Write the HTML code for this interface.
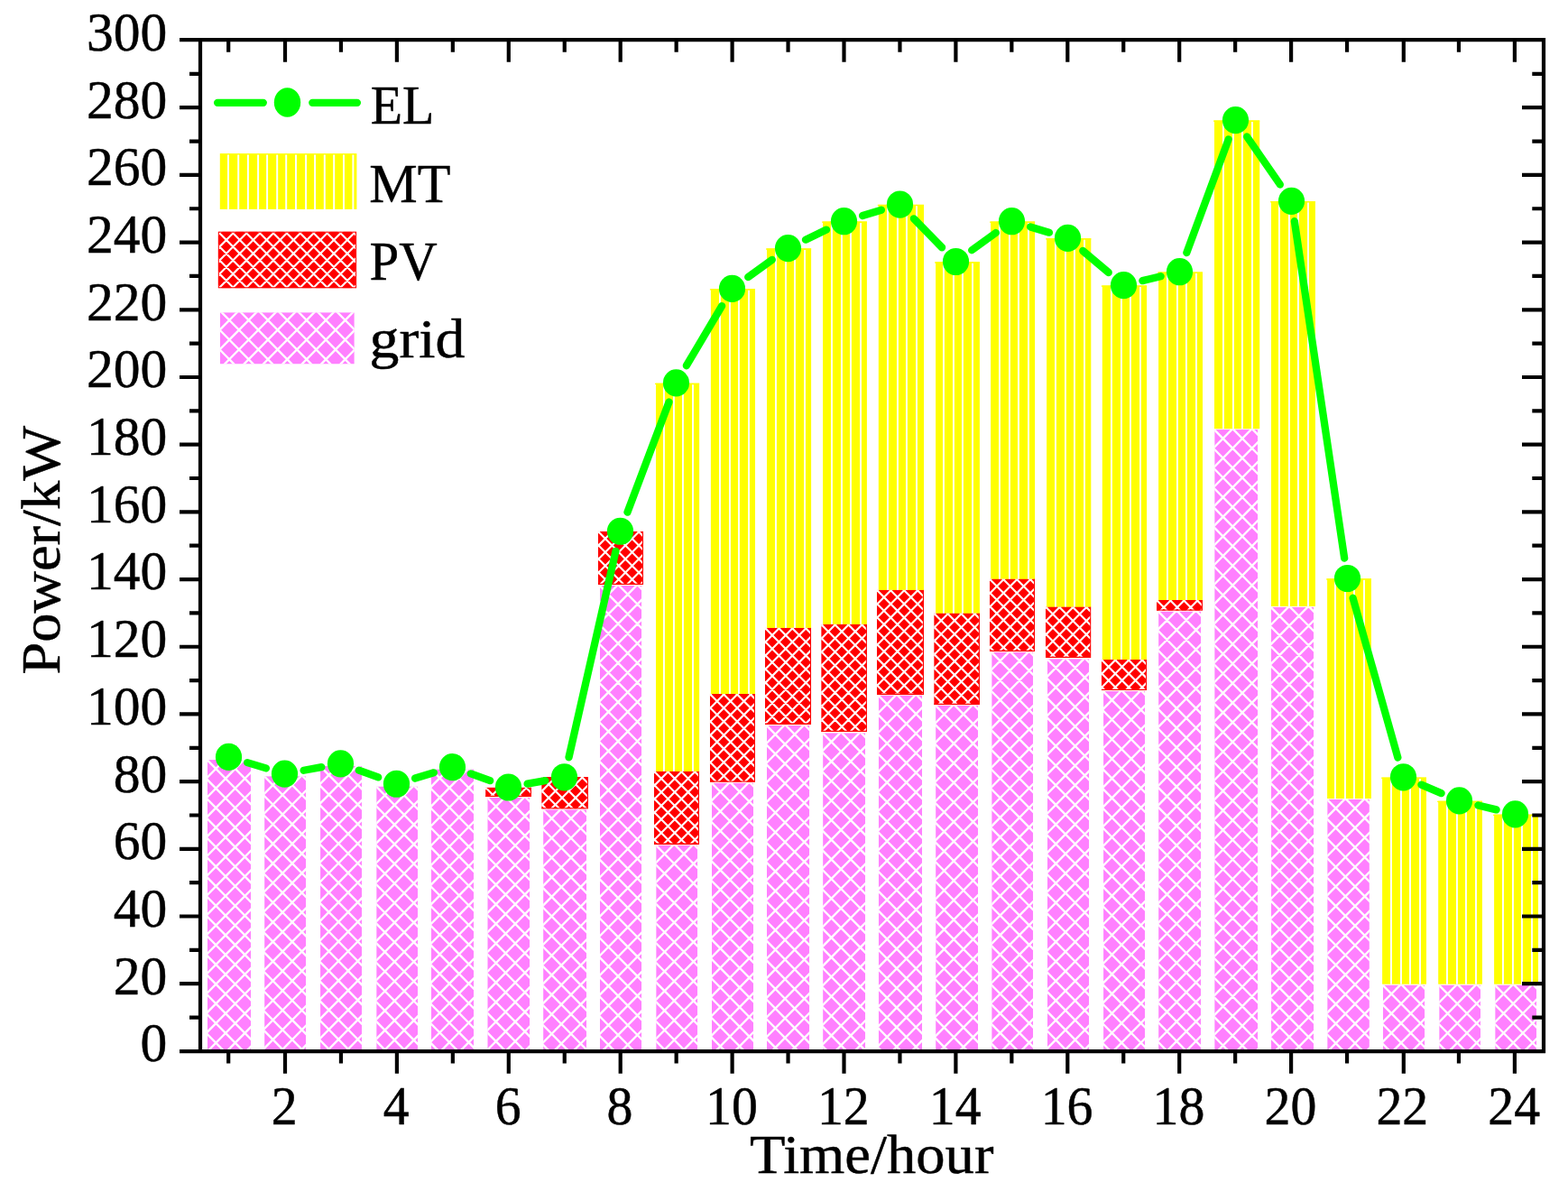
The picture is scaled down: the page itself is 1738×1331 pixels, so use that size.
<!DOCTYPE html>
<html lang="en"><head><meta charset="utf-8"><title>Power dispatch chart</title>
<style>html,body{margin:0;padding:0;background:#fff}body{width:1738px;height:1331px;overflow:hidden}svg{display:block}text{font-family:"Liberation Serif",serif;fill:#000;stroke:#000;stroke-width:0.45px;stroke-linejoin:round}</style></head><body>
<svg width="1738" height="1331" viewBox="0 0 1738 1331">
<rect width="1738" height="1331" fill="#fff"/>
<g id="bars">
<svg x="229.9" y="842.1" width="48.2" height="321.9"><rect width="100%" height="100%" fill="#ff80ff"/><path d="M-3 322.78L-0.91 324.9M-3 301.08L20.49 324.9M-3 279.38L41.89 324.9M-3 257.68L51.2 312.64M-3 235.98L51.2 290.94M-3 214.28L51.2 269.24M-3 192.58L51.2 247.54M-3 170.88L51.2 225.84M-3 149.18L51.2 204.14M-3 127.48L51.2 182.44M-3 105.78L51.2 160.74M-3 84.08L51.2 139.04M-3 62.38L51.2 117.34M-3 40.68L51.2 95.64M-3 18.98L51.2 73.94M-3 -2.72L51.2 52.24M18.13 -3L51.2 30.54M39.53 -3L51.2 8.84M0.67 -3L-3 0.72M22.07 -3L-3 22.42M43.47 -3L-3 44.12M51.2 10.86L-3 65.82M51.2 32.56L-3 87.52M51.2 54.26L-3 109.22M51.2 75.96L-3 130.92M51.2 97.66L-3 152.62M51.2 119.36L-3 174.32M51.2 141.06L-3 196.02M51.2 162.76L-3 217.72M51.2 184.46L-3 239.42M51.2 206.16L-3 261.12M51.2 227.86L-3 282.82M51.2 249.56L-3 304.52M51.2 271.26L-1.69 324.9M51.2 292.96L19.71 324.9M51.2 314.66L41.11 324.9" stroke="#fff" stroke-width="2.35" fill="none"/></svg>
<svg x="293.1" y="860.2" width="46" height="303.8"><rect width="100%" height="100%" fill="#ff80ff"/><path d="M-3 301.08L2.64 306.8M-3 279.38L24.04 306.8M-3 257.68L45.44 306.8M-3 235.98L49 288.71M-3 214.28L49 267.01M-3 192.58L49 245.31M-3 170.88L49 223.61M-3 149.18L49 201.91M-3 127.48L49 180.21M-3 105.78L49 158.51M-3 84.08L49 136.81M-3 62.38L49 115.11M-3 40.68L49 93.41M-3 18.98L49 71.71M-3 -2.72L49 50.01M18.13 -3L49 28.31M39.53 -3L49 6.61M0.67 -3L-3 0.72M22.07 -3L-3 22.42M43.47 -3L-3 44.12M49 13.09L-3 65.82M49 34.79L-3 87.52M49 56.49L-3 109.22M49 78.19L-3 130.92M49 99.89L-3 152.62M49 121.59L-3 174.32M49 143.29L-3 196.02M49 164.99L-3 217.72M49 186.69L-3 239.42M49 208.39L-3 261.12M49 230.09L-3 282.82M49 251.79L-3 304.52M49 273.49L16.16 306.8M49 295.19L37.56 306.8" stroke="#fff" stroke-width="2.35" fill="none"/></svg>
<svg x="355.1" y="849.1" width="45.9" height="314.9"><rect width="100%" height="100%" fill="#ff80ff"/><path d="M-3 301.08L13.59 317.9M-3 279.38L34.99 317.9M-3 257.68L48.9 310.3M-3 235.98L48.9 288.6M-3 214.28L48.9 266.9M-3 192.58L48.9 245.2M-3 170.88L48.9 223.5M-3 149.18L48.9 201.8M-3 127.48L48.9 180.1M-3 105.78L48.9 158.4M-3 84.08L48.9 136.7M-3 62.38L48.9 115M-3 40.68L48.9 93.3M-3 18.98L48.9 71.6M-3 -2.72L48.9 49.9M18.13 -3L48.9 28.2M39.53 -3L48.9 6.5M0.67 -3L-3 0.72M22.07 -3L-3 22.42M43.47 -3L-3 44.12M48.9 13.2L-3 65.82M48.9 34.9L-3 87.52M48.9 56.6L-3 109.22M48.9 78.3L-3 130.92M48.9 100L-3 152.62M48.9 121.7L-3 174.32M48.9 143.4L-3 196.02M48.9 165.1L-3 217.72M48.9 186.8L-3 239.42M48.9 208.5L-3 261.12M48.9 230.2L-3 282.82M48.9 251.9L-3 304.52M48.9 273.6L5.21 317.9M48.9 295.3L26.61 317.9M48.9 317L48.01 317.9" stroke="#fff" stroke-width="2.35" fill="none"/></svg>
<svg x="417.2" y="871.5" width="45.9" height="292.5"><rect width="100%" height="100%" fill="#ff80ff"/><path d="M-3 279.38L12.9 295.5M-3 257.68L34.3 295.5M-3 235.98L48.9 288.6M-3 214.28L48.9 266.9M-3 192.58L48.9 245.2M-3 170.88L48.9 223.5M-3 149.18L48.9 201.8M-3 127.48L48.9 180.1M-3 105.78L48.9 158.4M-3 84.08L48.9 136.7M-3 62.38L48.9 115M-3 40.68L48.9 93.3M-3 18.98L48.9 71.6M-3 -2.72L48.9 49.9M18.13 -3L48.9 28.2M39.53 -3L48.9 6.5M0.67 -3L-3 0.72M22.07 -3L-3 22.42M43.47 -3L-3 44.12M48.9 13.2L-3 65.82M48.9 34.9L-3 87.52M48.9 56.6L-3 109.22M48.9 78.3L-3 130.92M48.9 100L-3 152.62M48.9 121.7L-3 174.32M48.9 143.4L-3 196.02M48.9 165.1L-3 217.72M48.9 186.8L-3 239.42M48.9 208.5L-3 261.12M48.9 230.2L-3 282.82M48.9 251.9L5.9 295.5M48.9 273.6L27.3 295.5M48.9 295.3L48.7 295.5" stroke="#fff" stroke-width="2.35" fill="none"/></svg>
<svg x="478" y="852.4" width="47.1" height="311.6"><rect width="100%" height="100%" fill="#ff80ff"/><path d="M-3 301.08L10.34 314.6M-3 279.38L31.74 314.6M-3 257.68L50.1 311.52M-3 235.98L50.1 289.82M-3 214.28L50.1 268.12M-3 192.58L50.1 246.42M-3 170.88L50.1 224.72M-3 149.18L50.1 203.02M-3 127.48L50.1 181.32M-3 105.78L50.1 159.62M-3 84.08L50.1 137.92M-3 62.38L50.1 116.22M-3 40.68L50.1 94.52M-3 18.98L50.1 72.82M-3 -2.72L50.1 51.12M18.13 -3L50.1 29.42M39.53 -3L50.1 7.72M0.67 -3L-3 0.72M22.07 -3L-3 22.42M43.47 -3L-3 44.12M50.1 11.98L-3 65.82M50.1 33.68L-3 87.52M50.1 55.38L-3 109.22M50.1 77.08L-3 130.92M50.1 98.78L-3 152.62M50.1 120.48L-3 174.32M50.1 142.18L-3 196.02M50.1 163.88L-3 217.72M50.1 185.58L-3 239.42M50.1 207.28L-3 261.12M50.1 228.98L-3 282.82M50.1 250.68L-3 304.52M50.1 272.38L8.46 314.6M50.1 294.08L29.86 314.6" stroke="#fff" stroke-width="2.35" fill="none"/></svg>
<svg x="540.3" y="883.8" width="46.9" height="280.2"><rect width="100%" height="100%" fill="#ff80ff"/><path d="M-3 279.38L0.77 283.2M-3 257.68L22.17 283.2M-3 235.98L43.57 283.2M-3 214.28L49.9 267.92M-3 192.58L49.9 246.22M-3 170.88L49.9 224.52M-3 149.18L49.9 202.82M-3 127.48L49.9 181.12M-3 105.78L49.9 159.42M-3 84.08L49.9 137.72M-3 62.38L49.9 116.02M-3 40.68L49.9 94.32M-3 18.98L49.9 72.62M-3 -2.72L49.9 50.92M18.13 -3L49.9 29.22M39.53 -3L49.9 7.52M0.67 -3L-3 0.72M22.07 -3L-3 22.42M43.47 -3L-3 44.12M49.9 12.18L-3 65.82M49.9 33.88L-3 87.52M49.9 55.58L-3 109.22M49.9 77.28L-3 130.92M49.9 98.98L-3 152.62M49.9 120.68L-3 174.32M49.9 142.38L-3 196.02M49.9 164.08L-3 217.72M49.9 185.78L-3 239.42M49.9 207.48L-3 261.12M49.9 229.18L-3 282.82M49.9 250.88L18.03 283.2M49.9 272.58L39.43 283.2" stroke="#fff" stroke-width="2.35" fill="none"/></svg>
<svg x="602.1" y="897.2" width="47.9" height="266.8"><rect width="100%" height="100%" fill="#ff80ff"/><path d="M-3 257.68L8.96 269.8M-3 235.98L30.36 269.8M-3 214.28L50.9 268.93M-3 192.58L50.9 247.23M-3 170.88L50.9 225.53M-3 149.18L50.9 203.83M-3 127.48L50.9 182.13M-3 105.78L50.9 160.43M-3 84.08L50.9 138.73M-3 62.38L50.9 117.03M-3 40.68L50.9 95.33M-3 18.98L50.9 73.63M-3 -2.72L50.9 51.93M18.13 -3L50.9 30.23M39.53 -3L50.9 8.53M0.67 -3L-3 0.72M22.07 -3L-3 22.42M43.47 -3L-3 44.12M50.9 11.17L-3 65.82M50.9 32.87L-3 87.52M50.9 54.57L-3 109.22M50.9 76.27L-3 130.92M50.9 97.97L-3 152.62M50.9 119.67L-3 174.32M50.9 141.37L-3 196.02M50.9 163.07L-3 217.72M50.9 184.77L-3 239.42M50.9 206.47L-3 261.12M50.9 228.17L9.84 269.8M50.9 249.87L31.24 269.8" stroke="#fff" stroke-width="2.35" fill="none"/></svg>
<svg x="665" y="648.9" width="46.2" height="515.1"><rect width="100%" height="100%" fill="#ff80ff"/><path d="M-3 518.08L-2.98 518.1M-3 496.38L18.42 518.1M-3 474.68L39.82 518.1M-3 452.98L49.2 505.91M-3 431.28L49.2 484.21M-3 409.58L49.2 462.51M-3 387.88L49.2 440.81M-3 366.18L49.2 419.11M-3 344.48L49.2 397.41M-3 322.78L49.2 375.71M-3 301.08L49.2 354.01M-3 279.38L49.2 332.31M-3 257.68L49.2 310.61M-3 235.98L49.2 288.91M-3 214.28L49.2 267.21M-3 192.58L49.2 245.51M-3 170.88L49.2 223.81M-3 149.18L49.2 202.11M-3 127.48L49.2 180.41M-3 105.78L49.2 158.71M-3 84.08L49.2 137.01M-3 62.38L49.2 115.31M-3 40.68L49.2 93.61M-3 18.98L49.2 71.91M-3 -2.72L49.2 50.21M18.13 -3L49.2 28.51M39.53 -3L49.2 6.81M0.67 -3L-3 0.72M22.07 -3L-3 22.42M43.47 -3L-3 44.12M49.2 12.89L-3 65.82M49.2 34.59L-3 87.52M49.2 56.29L-3 109.22M49.2 77.99L-3 130.92M49.2 99.69L-3 152.62M49.2 121.39L-3 174.32M49.2 143.09L-3 196.02M49.2 164.79L-3 217.72M49.2 186.49L-3 239.42M49.2 208.19L-3 261.12M49.2 229.89L-3 282.82M49.2 251.59L-3 304.52M49.2 273.29L-3 326.22M49.2 294.99L-3 347.92M49.2 316.69L-3 369.62M49.2 338.39L-3 391.32M49.2 360.09L-3 413.02M49.2 381.79L-3 434.72M49.2 403.49L-3 456.42M49.2 425.19L-3 478.12M49.2 446.89L-3 499.82M49.2 468.59L0.38 518.1M49.2 490.29L21.78 518.1M49.2 511.99L43.18 518.1" stroke="#fff" stroke-width="2.35" fill="none"/></svg>
<svg x="727.2" y="936.5" width="46" height="227.5"><rect width="100%" height="100%" fill="#ff80ff"/><path d="M-3 214.28L13 230.5M-3 192.58L34.4 230.5M-3 170.88L49 223.61M-3 149.18L49 201.91M-3 127.48L49 180.21M-3 105.78L49 158.51M-3 84.08L49 136.81M-3 62.38L49 115.11M-3 40.68L49 93.41M-3 18.98L49 71.71M-3 -2.72L49 50.01M18.13 -3L49 28.31M39.53 -3L49 6.61M0.67 -3L-3 0.72M22.07 -3L-3 22.42M43.47 -3L-3 44.12M49 13.09L-3 65.82M49 34.79L-3 87.52M49 56.49L-3 109.22M49 78.19L-3 130.92M49 99.89L-3 152.62M49 121.59L-3 174.32M49 143.29L-3 196.02M49 164.99L-3 217.72M49 186.69L5.8 230.5M49 208.39L27.2 230.5M49 230.09L48.6 230.5" stroke="#fff" stroke-width="2.35" fill="none"/></svg>
<svg x="789" y="867.6" width="46" height="296.4"><rect width="100%" height="100%" fill="#ff80ff"/><path d="M-3 279.38L16.75 299.4M-3 257.68L38.15 299.4M-3 235.98L49 288.71M-3 214.28L49 267.01M-3 192.58L49 245.31M-3 170.88L49 223.61M-3 149.18L49 201.91M-3 127.48L49 180.21M-3 105.78L49 158.51M-3 84.08L49 136.81M-3 62.38L49 115.11M-3 40.68L49 93.41M-3 18.98L49 71.71M-3 -2.72L49 50.01M18.13 -3L49 28.31M39.53 -3L49 6.61M0.67 -3L-3 0.72M22.07 -3L-3 22.42M43.47 -3L-3 44.12M49 13.09L-3 65.82M49 34.79L-3 87.52M49 56.49L-3 109.22M49 78.19L-3 130.92M49 99.89L-3 152.62M49 121.59L-3 174.32M49 143.29L-3 196.02M49 164.99L-3 217.72M49 186.69L-3 239.42M49 208.39L-3 261.12M49 230.09L-3 282.82M49 251.79L2.05 299.4M49 273.49L23.45 299.4M49 295.19L44.85 299.4" stroke="#fff" stroke-width="2.35" fill="none"/></svg>
<svg x="850" y="804" width="47.2" height="360"><rect width="100%" height="100%" fill="#ff80ff"/><path d="M-3 344.48L15.27 363M-3 322.78L36.67 363M-3 301.08L50.2 355.02M-3 279.38L50.2 333.32M-3 257.68L50.2 311.62M-3 235.98L50.2 289.92M-3 214.28L50.2 268.22M-3 192.58L50.2 246.52M-3 170.88L50.2 224.82M-3 149.18L50.2 203.12M-3 127.48L50.2 181.42M-3 105.78L50.2 159.72M-3 84.08L50.2 138.02M-3 62.38L50.2 116.32M-3 40.68L50.2 94.62M-3 18.98L50.2 72.92M-3 -2.72L50.2 51.22M18.13 -3L50.2 29.52M39.53 -3L50.2 7.82M0.67 -3L-3 0.72M22.07 -3L-3 22.42M43.47 -3L-3 44.12M50.2 11.88L-3 65.82M50.2 33.58L-3 87.52M50.2 55.28L-3 109.22M50.2 76.98L-3 130.92M50.2 98.68L-3 152.62M50.2 120.38L-3 174.32M50.2 142.08L-3 196.02M50.2 163.78L-3 217.72M50.2 185.48L-3 239.42M50.2 207.18L-3 261.12M50.2 228.88L-3 282.82M50.2 250.58L-3 304.52M50.2 272.28L-3 326.22M50.2 293.98L-3 347.92M50.2 315.68L3.53 363M50.2 337.38L24.93 363M50.2 359.08L46.33 363" stroke="#fff" stroke-width="2.35" fill="none"/></svg>
<svg x="912.1" y="812.3" width="46.9" height="351.7"><rect width="100%" height="100%" fill="#ff80ff"/><path d="M-3 344.48L7.08 354.7M-3 322.78L28.48 354.7M-3 301.08L49.88 354.7M-3 279.38L49.9 333.02M-3 257.68L49.9 311.32M-3 235.98L49.9 289.62M-3 214.28L49.9 267.92M-3 192.58L49.9 246.22M-3 170.88L49.9 224.52M-3 149.18L49.9 202.82M-3 127.48L49.9 181.12M-3 105.78L49.9 159.42M-3 84.08L49.9 137.72M-3 62.38L49.9 116.02M-3 40.68L49.9 94.32M-3 18.98L49.9 72.62M-3 -2.72L49.9 50.92M18.13 -3L49.9 29.22M39.53 -3L49.9 7.52M0.67 -3L-3 0.72M22.07 -3L-3 22.42M43.47 -3L-3 44.12M49.9 12.18L-3 65.82M49.9 33.88L-3 87.52M49.9 55.58L-3 109.22M49.9 77.28L-3 130.92M49.9 98.98L-3 152.62M49.9 120.68L-3 174.32M49.9 142.38L-3 196.02M49.9 164.08L-3 217.72M49.9 185.78L-3 239.42M49.9 207.48L-3 261.12M49.9 229.18L-3 282.82M49.9 250.88L-3 304.52M49.9 272.58L-3 326.22M49.9 294.28L-3 347.92M49.9 315.98L11.72 354.7M49.9 337.68L33.12 354.7" stroke="#fff" stroke-width="2.35" fill="none"/></svg>
<svg x="973.8" y="770.5" width="48.3" height="393.5"><rect width="100%" height="100%" fill="#ff80ff"/><path d="M-3 387.88L5.5 396.5M-3 366.18L26.9 396.5M-3 344.48L48.3 396.5M-3 322.78L51.3 377.84M-3 301.08L51.3 356.14M-3 279.38L51.3 334.44M-3 257.68L51.3 312.74M-3 235.98L51.3 291.04M-3 214.28L51.3 269.34M-3 192.58L51.3 247.64M-3 170.88L51.3 225.94M-3 149.18L51.3 204.24M-3 127.48L51.3 182.54M-3 105.78L51.3 160.84M-3 84.08L51.3 139.14M-3 62.38L51.3 117.44M-3 40.68L51.3 95.74M-3 18.98L51.3 74.04M-3 -2.72L51.3 52.34M18.13 -3L51.3 30.64M39.53 -3L51.3 8.94M0.67 -3L-3 0.72M22.07 -3L-3 22.42M43.47 -3L-3 44.12M51.3 10.76L-3 65.82M51.3 32.46L-3 87.52M51.3 54.16L-3 109.22M51.3 75.86L-3 130.92M51.3 97.56L-3 152.62M51.3 119.26L-3 174.32M51.3 140.96L-3 196.02M51.3 162.66L-3 217.72M51.3 184.36L-3 239.42M51.3 206.06L-3 261.12M51.3 227.76L-3 282.82M51.3 249.46L-3 304.52M51.3 271.16L-3 326.22M51.3 292.86L-3 347.92M51.3 314.56L-3 369.62M51.3 336.26L-3 391.32M51.3 357.96L13.3 396.5M51.3 379.66L34.7 396.5" stroke="#fff" stroke-width="2.35" fill="none"/></svg>
<svg x="1037.1" y="781.6" width="46.9" height="382.4"><rect width="100%" height="100%" fill="#ff80ff"/><path d="M-3 366.18L15.96 385.4M-3 344.48L37.36 385.4M-3 322.78L49.9 376.42M-3 301.08L49.9 354.72M-3 279.38L49.9 333.02M-3 257.68L49.9 311.32M-3 235.98L49.9 289.62M-3 214.28L49.9 267.92M-3 192.58L49.9 246.22M-3 170.88L49.9 224.52M-3 149.18L49.9 202.82M-3 127.48L49.9 181.12M-3 105.78L49.9 159.42M-3 84.08L49.9 137.72M-3 62.38L49.9 116.02M-3 40.68L49.9 94.32M-3 18.98L49.9 72.62M-3 -2.72L49.9 50.92M18.13 -3L49.9 29.22M39.53 -3L49.9 7.52M0.67 -3L-3 0.72M22.07 -3L-3 22.42M43.47 -3L-3 44.12M49.9 12.18L-3 65.82M49.9 33.88L-3 87.52M49.9 55.58L-3 109.22M49.9 77.28L-3 130.92M49.9 98.98L-3 152.62M49.9 120.68L-3 174.32M49.9 142.38L-3 196.02M49.9 164.08L-3 217.72M49.9 185.78L-3 239.42M49.9 207.48L-3 261.12M49.9 229.18L-3 282.82M49.9 250.88L-3 304.52M49.9 272.58L-3 326.22M49.9 294.28L-3 347.92M49.9 315.98L-3 369.62M49.9 337.68L2.84 385.4M49.9 359.38L24.24 385.4M49.9 381.08L45.64 385.4" stroke="#fff" stroke-width="2.35" fill="none"/></svg>
<svg x="1099.2" y="722.6" width="45.9" height="441.4"><rect width="100%" height="100%" fill="#ff80ff"/><path d="M-3 431.28L9.94 444.4M-3 409.58L31.34 444.4M-3 387.88L48.9 440.5M-3 366.18L48.9 418.8M-3 344.48L48.9 397.1M-3 322.78L48.9 375.4M-3 301.08L48.9 353.7M-3 279.38L48.9 332M-3 257.68L48.9 310.3M-3 235.98L48.9 288.6M-3 214.28L48.9 266.9M-3 192.58L48.9 245.2M-3 170.88L48.9 223.5M-3 149.18L48.9 201.8M-3 127.48L48.9 180.1M-3 105.78L48.9 158.4M-3 84.08L48.9 136.7M-3 62.38L48.9 115M-3 40.68L48.9 93.3M-3 18.98L48.9 71.6M-3 -2.72L48.9 49.9M18.13 -3L48.9 28.2M39.53 -3L48.9 6.5M0.67 -3L-3 0.72M22.07 -3L-3 22.42M43.47 -3L-3 44.12M48.9 13.2L-3 65.82M48.9 34.9L-3 87.52M48.9 56.6L-3 109.22M48.9 78.3L-3 130.92M48.9 100L-3 152.62M48.9 121.7L-3 174.32M48.9 143.4L-3 196.02M48.9 165.1L-3 217.72M48.9 186.8L-3 239.42M48.9 208.5L-3 261.12M48.9 230.2L-3 282.82M48.9 251.9L-3 304.52M48.9 273.6L-3 326.22M48.9 295.3L-3 347.92M48.9 317L-3 369.62M48.9 338.7L-3 391.32M48.9 360.4L-3 413.02M48.9 382.1L-3 434.72M48.9 403.8L8.86 444.4M48.9 425.5L30.26 444.4" stroke="#fff" stroke-width="2.35" fill="none"/></svg>
<svg x="1160.9" y="730.2" width="46.3" height="433.8"><rect width="100%" height="100%" fill="#ff80ff"/><path d="M-3 431.28L2.45 436.8M-3 409.58L23.85 436.8M-3 387.88L45.25 436.8M-3 366.18L49.3 419.21M-3 344.48L49.3 397.51M-3 322.78L49.3 375.81M-3 301.08L49.3 354.11M-3 279.38L49.3 332.41M-3 257.68L49.3 310.71M-3 235.98L49.3 289.01M-3 214.28L49.3 267.31M-3 192.58L49.3 245.61M-3 170.88L49.3 223.91M-3 149.18L49.3 202.21M-3 127.48L49.3 180.51M-3 105.78L49.3 158.81M-3 84.08L49.3 137.11M-3 62.38L49.3 115.41M-3 40.68L49.3 93.71M-3 18.98L49.3 72.01M-3 -2.72L49.3 50.31M18.13 -3L49.3 28.61M39.53 -3L49.3 6.91M0.67 -3L-3 0.72M22.07 -3L-3 22.42M43.47 -3L-3 44.12M49.3 12.79L-3 65.82M49.3 34.49L-3 87.52M49.3 56.19L-3 109.22M49.3 77.89L-3 130.92M49.3 99.59L-3 152.62M49.3 121.29L-3 174.32M49.3 142.99L-3 196.02M49.3 164.69L-3 217.72M49.3 186.39L-3 239.42M49.3 208.09L-3 261.12M49.3 229.79L-3 282.82M49.3 251.49L-3 304.52M49.3 273.19L-3 326.22M49.3 294.89L-3 347.92M49.3 316.59L-3 369.62M49.3 338.29L-3 391.32M49.3 359.99L-3 413.02M49.3 381.69L-3 434.72M49.3 403.39L16.35 436.8M49.3 425.09L37.75 436.8" stroke="#fff" stroke-width="2.35" fill="none"/></svg>
<svg x="1223.1" y="766" width="46" height="398"><rect width="100%" height="100%" fill="#ff80ff"/><path d="M-3 387.88L9.94 401M-3 366.18L31.34 401M-3 344.48L49 397.21M-3 322.78L49 375.51M-3 301.08L49 353.81M-3 279.38L49 332.11M-3 257.68L49 310.41M-3 235.98L49 288.71M-3 214.28L49 267.01M-3 192.58L49 245.31M-3 170.88L49 223.61M-3 149.18L49 201.91M-3 127.48L49 180.21M-3 105.78L49 158.51M-3 84.08L49 136.81M-3 62.38L49 115.11M-3 40.68L49 93.41M-3 18.98L49 71.71M-3 -2.72L49 50.01M18.13 -3L49 28.31M39.53 -3L49 6.61M0.67 -3L-3 0.72M22.07 -3L-3 22.42M43.47 -3L-3 44.12M49 13.09L-3 65.82M49 34.79L-3 87.52M49 56.49L-3 109.22M49 78.19L-3 130.92M49 99.89L-3 152.62M49 121.59L-3 174.32M49 143.29L-3 196.02M49 164.99L-3 217.72M49 186.69L-3 239.42M49 208.39L-3 261.12M49 230.09L-3 282.82M49 251.79L-3 304.52M49 273.49L-3 326.22M49 295.19L-3 347.92M49 316.89L-3 369.62M49 338.59L-3 391.32M49 360.29L8.86 401M49 381.99L30.26 401" stroke="#fff" stroke-width="2.35" fill="none"/></svg>
<svg x="1284.1" y="677.5" width="47.1" height="486.5"><rect width="100%" height="100%" fill="#ff80ff"/><path d="M-3 474.68L11.62 489.5M-3 452.98L33.02 489.5M-3 431.28L50.1 485.12M-3 409.58L50.1 463.42M-3 387.88L50.1 441.72M-3 366.18L50.1 420.02M-3 344.48L50.1 398.32M-3 322.78L50.1 376.62M-3 301.08L50.1 354.92M-3 279.38L50.1 333.22M-3 257.68L50.1 311.52M-3 235.98L50.1 289.82M-3 214.28L50.1 268.12M-3 192.58L50.1 246.42M-3 170.88L50.1 224.72M-3 149.18L50.1 203.02M-3 127.48L50.1 181.32M-3 105.78L50.1 159.62M-3 84.08L50.1 137.92M-3 62.38L50.1 116.22M-3 40.68L50.1 94.52M-3 18.98L50.1 72.82M-3 -2.72L50.1 51.12M18.13 -3L50.1 29.42M39.53 -3L50.1 7.72M0.67 -3L-3 0.72M22.07 -3L-3 22.42M43.47 -3L-3 44.12M50.1 11.98L-3 65.82M50.1 33.68L-3 87.52M50.1 55.38L-3 109.22M50.1 77.08L-3 130.92M50.1 98.78L-3 152.62M50.1 120.48L-3 174.32M50.1 142.18L-3 196.02M50.1 163.88L-3 217.72M50.1 185.58L-3 239.42M50.1 207.28L-3 261.12M50.1 228.98L-3 282.82M50.1 250.68L-3 304.52M50.1 272.38L-3 326.22M50.1 294.08L-3 347.92M50.1 315.78L-3 369.62M50.1 337.48L-3 391.32M50.1 359.18L-3 413.02M50.1 380.88L-3 434.72M50.1 402.58L-3 456.42M50.1 424.28L-3 478.12M50.1 445.98L7.18 489.5M50.1 467.68L28.58 489.5M50.1 489.38L49.98 489.5" stroke="#fff" stroke-width="2.35" fill="none"/></svg>
<svg x="1346.2" y="476.1" width="48" height="687.9"><rect width="100%" height="100%" fill="#ff80ff"/><path d="M-3 669.98L17.63 690.9M-3 648.28L39.03 690.9M-3 626.58L51 681.33M-3 604.88L51 659.63M-3 583.18L51 637.93M-3 561.48L51 616.23M-3 539.78L51 594.53M-3 518.08L51 572.83M-3 496.38L51 551.13M-3 474.68L51 529.43M-3 452.98L51 507.73M-3 431.28L51 486.03M-3 409.58L51 464.33M-3 387.88L51 442.63M-3 366.18L51 420.93M-3 344.48L51 399.23M-3 322.78L51 377.53M-3 301.08L51 355.83M-3 279.38L51 334.13M-3 257.68L51 312.43M-3 235.98L51 290.73M-3 214.28L51 269.03M-3 192.58L51 247.33M-3 170.88L51 225.63M-3 149.18L51 203.93M-3 127.48L51 182.23M-3 105.78L51 160.53M-3 84.08L51 138.83M-3 62.38L51 117.13M-3 40.68L51 95.43M-3 18.98L51 73.73M-3 -2.72L51 52.03M18.13 -3L51 30.33M39.53 -3L51 8.63M0.67 -3L-3 0.72M22.07 -3L-3 22.42M43.47 -3L-3 44.12M51 11.07L-3 65.82M51 32.77L-3 87.52M51 54.47L-3 109.22M51 76.17L-3 130.92M51 97.87L-3 152.62M51 119.57L-3 174.32M51 141.27L-3 196.02M51 162.97L-3 217.72M51 184.67L-3 239.42M51 206.37L-3 261.12M51 228.07L-3 282.82M51 249.77L-3 304.52M51 271.47L-3 326.22M51 293.17L-3 347.92M51 314.87L-3 369.62M51 336.57L-3 391.32M51 358.27L-3 413.02M51 379.97L-3 434.72M51 401.67L-3 456.42M51 423.37L-3 478.12M51 445.07L-3 499.82M51 466.77L-3 521.52M51 488.47L-3 543.22M51 510.17L-3 564.92M51 531.87L-3 586.62M51 553.57L-3 608.32M51 575.27L-3 630.02M51 596.97L-3 651.72M51 618.67L-3 673.42M51 640.37L1.17 690.9M51 662.07L22.57 690.9M51 683.77L43.97 690.9" stroke="#fff" stroke-width="2.35" fill="none"/></svg>
<svg x="1408.9" y="672.8" width="47.2" height="491.2"><rect width="100%" height="100%" fill="#ff80ff"/><path d="M-3 474.68L16.25 494.2M-3 452.98L37.65 494.2M-3 431.28L50.2 485.22M-3 409.58L50.2 463.52M-3 387.88L50.2 441.82M-3 366.18L50.2 420.12M-3 344.48L50.2 398.42M-3 322.78L50.2 376.72M-3 301.08L50.2 355.02M-3 279.38L50.2 333.32M-3 257.68L50.2 311.62M-3 235.98L50.2 289.92M-3 214.28L50.2 268.22M-3 192.58L50.2 246.52M-3 170.88L50.2 224.82M-3 149.18L50.2 203.12M-3 127.48L50.2 181.42M-3 105.78L50.2 159.72M-3 84.08L50.2 138.02M-3 62.38L50.2 116.32M-3 40.68L50.2 94.62M-3 18.98L50.2 72.92M-3 -2.72L50.2 51.22M18.13 -3L50.2 29.52M39.53 -3L50.2 7.82M0.67 -3L-3 0.72M22.07 -3L-3 22.42M43.47 -3L-3 44.12M50.2 11.88L-3 65.82M50.2 33.58L-3 87.52M50.2 55.28L-3 109.22M50.2 76.98L-3 130.92M50.2 98.68L-3 152.62M50.2 120.38L-3 174.32M50.2 142.08L-3 196.02M50.2 163.78L-3 217.72M50.2 185.48L-3 239.42M50.2 207.18L-3 261.12M50.2 228.88L-3 282.82M50.2 250.58L-3 304.52M50.2 272.28L-3 326.22M50.2 293.98L-3 347.92M50.2 315.68L-3 369.62M50.2 337.38L-3 391.32M50.2 359.08L-3 413.02M50.2 380.78L-3 434.72M50.2 402.48L-3 456.42M50.2 424.18L-3 478.12M50.2 445.88L2.55 494.2M50.2 467.58L23.95 494.2M50.2 489.28L45.35 494.2" stroke="#fff" stroke-width="2.35" fill="none"/></svg>
<svg x="1471.2" y="885.9" width="46.7" height="278.1"><rect width="100%" height="100%" fill="#ff80ff"/><path d="M-3 279.38L-1.3 281.1M-3 257.68L20.1 281.1M-3 235.98L41.5 281.1M-3 214.28L49.7 267.71M-3 192.58L49.7 246.01M-3 170.88L49.7 224.31M-3 149.18L49.7 202.61M-3 127.48L49.7 180.91M-3 105.78L49.7 159.21M-3 84.08L49.7 137.51M-3 62.38L49.7 115.81M-3 40.68L49.7 94.11M-3 18.98L49.7 72.41M-3 -2.72L49.7 50.71M18.13 -3L49.7 29.01M39.53 -3L49.7 7.31M0.67 -3L-3 0.72M22.07 -3L-3 22.42M43.47 -3L-3 44.12M49.7 12.39L-3 65.82M49.7 34.09L-3 87.52M49.7 55.79L-3 109.22M49.7 77.49L-3 130.92M49.7 99.19L-3 152.62M49.7 120.89L-3 174.32M49.7 142.59L-3 196.02M49.7 164.29L-3 217.72M49.7 185.99L-3 239.42M49.7 207.69L-3 261.12M49.7 229.39L-1.3 281.1M49.7 251.09L20.1 281.1M49.7 272.79L41.5 281.1" stroke="#fff" stroke-width="2.35" fill="none"/></svg>
<svg x="1532.9" y="1091.6" width="46.3" height="72.4"><rect width="100%" height="100%" fill="#ff80ff"/><path d="M-3 62.38L9.84 75.4M-3 40.68L31.24 75.4M-3 18.98L49.3 72.01M-3 -2.72L49.3 50.31M18.13 -3L49.3 28.61M39.53 -3L49.3 6.91M0.67 -3L-3 0.72M22.07 -3L-3 22.42M43.47 -3L-3 44.12M49.3 12.79L-3 65.82M49.3 34.49L8.96 75.4M49.3 56.19L30.36 75.4" stroke="#fff" stroke-width="2.35" fill="none"/></svg>
<svg x="1595.2" y="1091.6" width="45.8" height="72.4"><rect width="100%" height="100%" fill="#ff80ff"/><path d="M-3 62.38L9.84 75.4M-3 40.68L31.24 75.4M-3 18.98L48.8 71.5M-3 -2.72L48.8 49.8M18.13 -3L48.8 28.1M39.53 -3L48.8 6.4M0.67 -3L-3 0.72M22.07 -3L-3 22.42M43.47 -3L-3 44.12M48.8 13.3L-3 65.82M48.8 35L8.96 75.4M48.8 56.7L30.36 75.4" stroke="#fff" stroke-width="2.35" fill="none"/></svg>
<svg x="1657.2" y="1091.6" width="45.9" height="72.4"><rect width="100%" height="100%" fill="#ff80ff"/><path d="M-3 62.38L9.84 75.4M-3 40.68L31.24 75.4M-3 18.98L48.9 71.6M-3 -2.72L48.9 49.9M18.13 -3L48.9 28.2M39.53 -3L48.9 6.5M0.67 -3L-3 0.72M22.07 -3L-3 22.42M43.47 -3L-3 44.12M48.9 13.2L-3 65.82M48.9 34.9L8.96 75.4M48.9 56.6L30.36 75.4" stroke="#fff" stroke-width="2.35" fill="none"/></svg>
<rect x="726" y="424.74" width="49.1" height="1.3" fill="#ffff00"/>
<rect x="727" y="424.74" width="48.1" height="430.56" fill="#ffff00"/><path d="M735.95 426.24 V855.3 M746.95 426.24 V855.3 M756.95 426.24 V855.3 M768 426.24 V855.3" stroke="#fff" stroke-width="1.95" fill="none"/>
<rect x="786.9" y="320.19" width="50.1" height="1.3" fill="#ffff00"/>
<rect x="787.9" y="320.19" width="49.1" height="449.41" fill="#ffff00"/><path d="M797.95 321.69 V769.6 M808.95 321.69 V769.6 M818.95 321.69 V769.6 M830 321.69 V769.6" stroke="#fff" stroke-width="1.95" fill="none"/>
<rect x="849" y="275.38" width="50.1" height="1.3" fill="#ffff00"/>
<rect x="850" y="275.38" width="49.1" height="421.02" fill="#ffff00"/><path d="M859.95 276.88 V696.4 M870.95 276.88 V696.4 M880.95 276.88 V696.4 M892 276.88 V696.4" stroke="#fff" stroke-width="1.95" fill="none"/>
<rect x="911.1" y="245.51" width="49.8" height="1.3" fill="#ffff00"/>
<rect x="912.1" y="245.51" width="48.8" height="446.89" fill="#ffff00"/><path d="M921.95 247.01 V692.4 M932.95 247.01 V692.4 M942.95 247.01 V692.4 M954 247.01 V692.4" stroke="#fff" stroke-width="1.95" fill="none"/>
<rect x="972.8" y="226.84" width="51.2" height="1.3" fill="#ffff00"/>
<rect x="973.8" y="226.84" width="50.2" height="427.46" fill="#ffff00"/><path d="M983.95 228.34 V654.3 M994.95 228.34 V654.3 M1004.95 228.34 V654.3 M1016 228.34 V654.3" stroke="#fff" stroke-width="1.95" fill="none"/>
<rect x="1036.1" y="290.32" width="49.8" height="1.3" fill="#ffff00"/>
<rect x="1037.1" y="290.32" width="48.8" height="389.88" fill="#ffff00"/><path d="M1045.95 291.82 V680.2 M1056.95 291.82 V680.2 M1066.95 291.82 V680.2 M1078 291.82 V680.2" stroke="#fff" stroke-width="1.95" fill="none"/>
<rect x="1097.1" y="245.51" width="50" height="1.3" fill="#ffff00"/>
<rect x="1098.1" y="245.51" width="49" height="396.69" fill="#ffff00"/><path d="M1107.95 247.01 V642.2 M1118.95 247.01 V642.2 M1128.95 247.01 V642.2 M1140 247.01 V642.2" stroke="#fff" stroke-width="1.95" fill="none"/>
<rect x="1159.1" y="264.18" width="50.2" height="1.3" fill="#ffff00"/>
<rect x="1160.1" y="264.18" width="49.2" height="408.82" fill="#ffff00"/><path d="M1169.95 265.68 V673 M1180.95 265.68 V673 M1190.95 265.68 V673 M1202 265.68 V673" stroke="#fff" stroke-width="1.95" fill="none"/>
<rect x="1220.8" y="316.45" width="50.3" height="1.3" fill="#ffff00"/>
<rect x="1221.8" y="316.45" width="49.3" height="415.05" fill="#ffff00"/><path d="M1231.95 317.95 V731.5 M1242.95 317.95 V731.5 M1252.95 317.95 V731.5 M1264 317.95 V731.5" stroke="#fff" stroke-width="1.95" fill="none"/>
<rect x="1283.1" y="301.52" width="49.9" height="1.3" fill="#ffff00"/>
<rect x="1284.1" y="301.52" width="48.9" height="364.08" fill="#ffff00"/><path d="M1293.95 303.02 V665.6 M1304.95 303.02 V665.6 M1314.95 303.02 V665.6 M1326 303.02 V665.6" stroke="#fff" stroke-width="1.95" fill="none"/>
<rect x="1345" y="133.49" width="51.2" height="1.3" fill="#ffff00"/>
<rect x="1346" y="133.49" width="50.2" height="341.71" fill="#ffff00"/><path d="M1355.95 134.99 V475.2 M1366.95 134.99 V475.2 M1376.95 134.99 V475.2 M1388 134.99 V475.2" stroke="#fff" stroke-width="1.95" fill="none"/>
<rect x="1408" y="223.11" width="49.9" height="1.3" fill="#ffff00"/>
<rect x="1409" y="223.11" width="48.9" height="448.79" fill="#ffff00"/><path d="M1417.95 224.61 V671.9 M1428.95 224.61 V671.9 M1438.95 224.61 V671.9 M1450 224.61 V671.9" stroke="#fff" stroke-width="1.95" fill="none"/>
<rect x="1470.1" y="641.3" width="49.8" height="1.3" fill="#ffff00"/>
<rect x="1471.1" y="641.3" width="48.8" height="243.7" fill="#ffff00"/><path d="M1479.95 642.8 V885 M1490.95 642.8 V885 M1500.95 642.8 V885 M1512 642.8 V885" stroke="#fff" stroke-width="1.95" fill="none"/>
<rect x="1531.1" y="861.6" width="49.9" height="1.3" fill="#ffff00"/>
<rect x="1532.1" y="861.6" width="48.9" height="229.1" fill="#ffff00"/><path d="M1541.95 863.1 V1090.7 M1552.95 863.1 V1090.7 M1562.95 863.1 V1090.7 M1574 863.1 V1090.7" stroke="#fff" stroke-width="1.95" fill="none"/>
<rect x="1593.2" y="887.74" width="49.7" height="1.3" fill="#ffff00"/>
<rect x="1594.2" y="887.74" width="48.7" height="202.96" fill="#ffff00"/><path d="M1603.95 889.24 V1090.7 M1614.95 889.24 V1090.7 M1624.95 889.24 V1090.7 M1636 889.24 V1090.7" stroke="#fff" stroke-width="1.95" fill="none"/>
<rect x="1655.1" y="902.68" width="49.9" height="1.3" fill="#ffff00"/>
<rect x="1656.1" y="902.68" width="48.9" height="188.02" fill="#ffff00"/><path d="M1665.95 904.18 V1090.7 M1676.95 904.18 V1090.7 M1686.95 904.18 V1090.7 M1698 904.18 V1090.7" stroke="#fff" stroke-width="1.95" fill="none"/>
<svg x="538.1" y="872.6" width="50.9" height="10.4"><rect width="100%" height="100%" fill="#ff0000"/><path d="M-3 12.11L-1.73 13.4M-3 -2.94L13.17 13.4M11.84 -3L28.07 13.4M26.74 -3L42.97 13.4M41.64 -3L53.9 9.39M4.06 -3L-3 4.14M18.96 -3L2.73 13.4M33.86 -3L17.63 13.4M48.76 -3L32.53 13.4M53.9 6.86L47.43 13.4" stroke="#fff" stroke-width="2.15" fill="none"/><path d="M50.45 0V9.75H0" fill="none" stroke="#ff0000" stroke-width="1.3"/></svg>
<svg x="600.2" y="861" width="51.7" height="35.5"><rect width="100%" height="100%" fill="#ff0000"/><path d="M-3 27.16L8.22 38.5M-3 12.11L23.12 38.5M-3 -2.94L38.02 38.5M11.84 -3L52.92 38.5M26.74 -3L54.7 25.25M41.64 -3L54.7 10.2M4.06 -3L-3 4.14M18.96 -3L-3 19.19M33.86 -3L-3 34.24M48.76 -3L7.68 38.5M54.7 6.05L22.58 38.5M54.7 21.1L37.48 38.5M54.7 36.15L52.38 38.5" stroke="#fff" stroke-width="2.15" fill="none"/><path d="M51.25 0V34.85H0" fill="none" stroke="#ff0000" stroke-width="1.3"/></svg>
<svg x="662.9" y="588.8" width="50.2" height="59.3"><rect width="100%" height="100%" fill="#ff0000"/><path d="M-3 57.26L1.99 62.3M-3 42.21L16.89 62.3M-3 27.16L31.79 62.3M-3 12.11L46.69 62.3M-3 -2.94L53.2 53.83M11.84 -3L53.2 38.78M26.74 -3L53.2 23.73M41.64 -3L53.2 8.68M4.06 -3L-3 4.14M18.96 -3L-3 19.19M33.86 -3L-3 34.24M48.76 -3L-3 49.29M53.2 7.57L-0.99 62.3M53.2 22.62L13.91 62.3M53.2 37.67L28.81 62.3M53.2 52.72L43.71 62.3" stroke="#fff" stroke-width="2.15" fill="none"/><path d="M49.75 0V58.65H0" fill="none" stroke="#ff0000" stroke-width="1.3"/></svg>
<svg x="725" y="854.7" width="50" height="81.2"><rect width="100%" height="100%" fill="#ff0000"/><path d="M-3 72.31L8.77 84.2M-3 57.26L23.67 84.2M-3 42.21L38.57 84.2M-3 27.16L53 83.73M-3 12.11L53 68.68M-3 -2.94L53 53.63M11.84 -3L53 38.58M26.74 -3L53 23.53M41.64 -3L53 8.48M4.06 -3L-3 4.14M18.96 -3L-3 19.19M33.86 -3L-3 34.24M48.76 -3L-3 49.29M53 7.77L-3 64.34M53 22.82L-3 79.39M53 37.87L7.13 84.2M53 52.92L22.03 84.2M53 67.97L36.93 84.2M53 83.02L51.83 84.2" stroke="#fff" stroke-width="2.15" fill="none"/><path d="M49.55 0V80.55H0" fill="none" stroke="#ff0000" stroke-width="1.3"/></svg>
<svg x="786.85" y="769" width="50.15" height="97.8"><rect width="100%" height="100%" fill="#ff0000"/><path d="M-3 87.36L10.3 100.8M-3 72.31L25.2 100.8M-3 57.26L40.1 100.8M-3 42.21L53.15 98.93M-3 27.16L53.15 83.88M-3 12.11L53.15 68.83M-3 -2.94L53.15 53.78M11.84 -3L53.15 38.73M26.74 -3L53.15 23.68M41.64 -3L53.15 8.63M4.06 -3L-3 4.14M18.96 -3L-3 19.19M33.86 -3L-3 34.24M48.76 -3L-3 49.29M53.15 7.62L-3 64.34M53.15 22.67L-3 79.39M53.15 37.72L-3 94.44M53.15 52.77L5.6 100.8M53.15 67.82L20.5 100.8M53.15 82.87L35.4 100.8M53.15 97.92L50.3 100.8" stroke="#fff" stroke-width="2.15" fill="none"/><path d="M49.7 0V97.15H0" fill="none" stroke="#ff0000" stroke-width="1.3"/></svg>
<svg x="848" y="695.8" width="51.1" height="107.1"><rect width="100%" height="100%" fill="#ff0000"/><path d="M-3 102.41L4.61 110.1M-3 87.36L19.51 110.1M-3 72.31L34.41 110.1M-3 57.26L49.31 110.1M-3 42.21L54.1 99.89M-3 27.16L54.1 84.84M-3 12.11L54.1 69.79M-3 -2.94L54.1 54.74M11.84 -3L54.1 39.69M26.74 -3L54.1 24.64M41.64 -3L54.1 9.59M4.06 -3L-3 4.14M18.96 -3L-3 19.19M33.86 -3L-3 34.24M48.76 -3L-3 49.29M54.1 6.66L-3 64.34M54.1 21.71L-3 79.39M54.1 36.76L-3 94.44M54.1 51.81L-3 109.49M54.1 66.86L11.29 110.1M54.1 81.91L26.19 110.1M54.1 96.96L41.09 110.1" stroke="#fff" stroke-width="2.15" fill="none"/><path d="M50.65 0V106.45H0" fill="none" stroke="#ff0000" stroke-width="1.3"/></svg>
<svg x="910.2" y="691.8" width="50.7" height="119.3"><rect width="100%" height="100%" fill="#ff0000"/><path d="M-3 117.46L1.79 122.3M-3 102.41L16.69 122.3M-3 87.36L31.59 122.3M-3 72.31L46.49 122.3M-3 57.26L53.7 114.54M-3 42.21L53.7 99.49M-3 27.16L53.7 84.44M-3 12.11L53.7 69.39M-3 -2.94L53.7 54.34M11.84 -3L53.7 39.29M26.74 -3L53.7 24.24M41.64 -3L53.7 9.19M4.06 -3L-3 4.14M18.96 -3L-3 19.19M33.86 -3L-3 34.24M48.76 -3L-3 49.29M53.7 7.06L-3 64.34M53.7 22.11L-3 79.39M53.7 37.16L-3 94.44M53.7 52.21L-3 109.49M53.7 67.26L-0.79 122.3M53.7 82.31L14.11 122.3M53.7 97.36L29.01 122.3M53.7 112.41L43.91 122.3" stroke="#fff" stroke-width="2.15" fill="none"/><path d="M50.25 0V118.65H0" fill="none" stroke="#ff0000" stroke-width="1.3"/></svg>
<svg x="971.9" y="653.7" width="52.1" height="116.2"><rect width="100%" height="100%" fill="#ff0000"/><path d="M-3 117.46L-1.28 119.2M-3 102.41L13.62 119.2M-3 87.36L28.52 119.2M-3 72.31L43.42 119.2M-3 57.26L55.1 115.95M-3 42.21L55.1 100.9M-3 27.16L55.1 85.85M-3 12.11L55.1 70.8M-3 -2.94L55.1 55.75M11.84 -3L55.1 40.7M26.74 -3L55.1 25.65M41.64 -3L55.1 10.6M4.06 -3L-3 4.14M18.96 -3L-3 19.19M33.86 -3L-3 34.24M48.76 -3L-3 49.29M55.1 5.65L-3 64.34M55.1 20.7L-3 79.39M55.1 35.75L-3 94.44M55.1 50.8L-3 109.49M55.1 65.85L2.28 119.2M55.1 80.9L17.18 119.2M55.1 95.95L32.08 119.2M55.1 111L46.98 119.2" stroke="#fff" stroke-width="2.15" fill="none"/><path d="M51.65 0V115.55H0" fill="none" stroke="#ff0000" stroke-width="1.3"/></svg>
<svg x="1035.2" y="679.6" width="50.7" height="101.4"><rect width="100%" height="100%" fill="#ff0000"/><path d="M-3 102.41L-1.03 104.4M-3 87.36L13.87 104.4M-3 72.31L28.77 104.4M-3 57.26L43.67 104.4M-3 42.21L53.7 99.49M-3 27.16L53.7 84.44M-3 12.11L53.7 69.39M-3 -2.94L53.7 54.34M11.84 -3L53.7 39.29M26.74 -3L53.7 24.24M41.64 -3L53.7 9.19M4.06 -3L-3 4.14M18.96 -3L-3 19.19M33.86 -3L-3 34.24M48.76 -3L-3 49.29M53.7 7.06L-3 64.34M53.7 22.11L-3 79.39M53.7 37.16L-3 94.44M53.7 52.21L2.03 104.4M53.7 67.26L16.93 104.4M53.7 82.31L31.83 104.4M53.7 97.36L46.73 104.4" stroke="#fff" stroke-width="2.15" fill="none"/><path d="M50.25 0V100.75H0" fill="none" stroke="#ff0000" stroke-width="1.3"/></svg>
<svg x="1096.9" y="641.6" width="50.2" height="80.4"><rect width="100%" height="100%" fill="#ff0000"/><path d="M-3 72.31L7.97 83.4M-3 57.26L22.87 83.4M-3 42.21L37.77 83.4M-3 27.16L52.67 83.4M-3 12.11L53.2 68.88M-3 -2.94L53.2 53.83M11.84 -3L53.2 38.78M26.74 -3L53.2 23.73M41.64 -3L53.2 8.68M4.06 -3L-3 4.14M18.96 -3L-3 19.19M33.86 -3L-3 34.24M48.76 -3L-3 49.29M53.2 7.57L-3 64.34M53.2 22.62L-3 79.39M53.2 37.67L7.93 83.4M53.2 52.72L22.83 83.4M53.2 67.77L37.73 83.4M53.2 82.82L52.63 83.4" stroke="#fff" stroke-width="2.15" fill="none"/><path d="M49.75 0V79.75H0" fill="none" stroke="#ff0000" stroke-width="1.3"/></svg>
<svg x="1159" y="672.4" width="50.3" height="56.6"><rect width="100%" height="100%" fill="#ff0000"/><path d="M-3 57.26L-0.69 59.6M-3 42.21L14.21 59.6M-3 27.16L29.11 59.6M-3 12.11L44.01 59.6M-3 -2.94L53.3 53.93M11.84 -3L53.3 38.88M26.74 -3L53.3 23.83M41.64 -3L53.3 8.78M4.06 -3L-3 4.14M18.96 -3L-3 19.19M33.86 -3L-3 34.24M48.76 -3L-3 49.29M53.3 7.47L1.69 59.6M53.3 22.52L16.59 59.6M53.3 37.57L31.49 59.6M53.3 52.62L46.39 59.6" stroke="#fff" stroke-width="2.15" fill="none"/><path d="M49.85 0V55.95H0" fill="none" stroke="#ff0000" stroke-width="1.3"/></svg>
<svg x="1220.8" y="730.9" width="50.3" height="34.2"><rect width="100%" height="100%" fill="#ff0000"/><path d="M-3 27.16L6.94 37.2M-3 12.11L21.84 37.2M-3 -2.94L36.74 37.2M11.84 -3L51.64 37.2M26.74 -3L53.3 23.83M41.64 -3L53.3 8.78M4.06 -3L-3 4.14M18.96 -3L-3 19.19M33.86 -3L-3 34.24M48.76 -3L8.96 37.2M53.3 7.47L23.86 37.2M53.3 22.52L38.76 37.2" stroke="#fff" stroke-width="2.15" fill="none"/><path d="M49.85 0V33.55H0" fill="none" stroke="#ff0000" stroke-width="1.3"/></svg>
<svg x="1282" y="665" width="51" height="11.8"><rect width="100%" height="100%" fill="#ff0000"/><path d="M-3 12.11L-0.34 14.8M-3 -2.94L14.56 14.8M11.84 -3L29.46 14.8M26.74 -3L44.36 14.8M41.64 -3L54 9.49M4.06 -3L-3 4.14M18.96 -3L1.34 14.8M33.86 -3L16.24 14.8M48.76 -3L31.14 14.8M54 6.76L46.04 14.8" stroke="#fff" stroke-width="2.15" fill="none"/><path d="M50.55 0V11.15H0" fill="none" stroke="#ff0000" stroke-width="1.3"/></svg>
</g>
<g id="el" stroke="#00ff00" stroke-width="8.3" stroke-linecap="round" fill="none">
<line x1="274.09" y1="845.1" x2="294.91" y2="851.37"/>
<line x1="336.6" y1="853.76" x2="356.4" y2="850.18"/>
<line x1="397.76" y1="853.69" x2="419.24" y2="861.45"/>
<line x1="460.09" y1="862.57" x2="480.91" y2="856.3"/>
<line x1="521.76" y1="857.42" x2="543.24" y2="865.19"/>
<line x1="584.6" y1="868.69" x2="604.4" y2="865.12"/>
<line x1="630.52" y1="839.24" x2="682.48" y2="610.8"/>
<line x1="695.45" y1="567.66" x2="741.55" y2="445.51"/>
<line x1="760.89" y1="405.22" x2="800.11" y2="339.1"/>
<line x1="829.19" y1="307.11" x2="855.81" y2="287.86"/>
<line x1="892.98" y1="265.69" x2="916.02" y2="254.6"/>
<line x1="956.09" y1="239.01" x2="976.91" y2="232.74"/>
<line x1="1012.9" y1="242.31" x2="1044.1" y2="274.25"/>
<line x1="1077.19" y1="277.24" x2="1103.81" y2="257.99"/>
<line x1="1142.09" y1="251.41" x2="1162.91" y2="257.68"/>
<line x1="1200.25" y1="278" x2="1228.75" y2="302.03"/>
<line x1="1266.37" y1="311.13" x2="1286.63" y2="306.25"/>
<line x1="1315.3" y1="280.08" x2="1361.7" y2="154.33"/>
<line x1="1382.16" y1="151.49" x2="1418.84" y2="204.51"/>
<line x1="1434.82" y1="245.23" x2="1490.18" y2="618.58"/>
<line x1="1499.62" y1="662.76" x2="1549.38" y2="839.55"/>
<line x1="1575.39" y1="869.69" x2="1597.61" y2="879.06"/>
<line x1="1638.37" y1="892.47" x2="1658.63" y2="897.35"/>
</g>
<g id="markers" fill="#00ff00">
<ellipse cx="253.5" cy="838.9" rx="14.6" ry="15.1"/>
<ellipse cx="315.5" cy="857.57" rx="14.6" ry="15.1"/>
<ellipse cx="377.5" cy="846.37" rx="14.6" ry="15.1"/>
<ellipse cx="439.5" cy="868.77" rx="14.6" ry="15.1"/>
<ellipse cx="501.5" cy="850.1" rx="14.6" ry="15.1"/>
<ellipse cx="563.5" cy="872.51" rx="14.6" ry="15.1"/>
<ellipse cx="625.5" cy="861.3" rx="14.6" ry="15.1"/>
<ellipse cx="687.5" cy="588.73" rx="14.6" ry="15.1"/>
<ellipse cx="749.5" cy="424.44" rx="14.6" ry="15.1"/>
<ellipse cx="811.5" cy="319.89" rx="14.6" ry="15.1"/>
<ellipse cx="873.5" cy="275.08" rx="14.6" ry="15.1"/>
<ellipse cx="935.5" cy="245.21" rx="14.6" ry="15.1"/>
<ellipse cx="997.5" cy="226.54" rx="14.6" ry="15.1"/>
<ellipse cx="1059.5" cy="290.02" rx="14.6" ry="15.1"/>
<ellipse cx="1121.5" cy="245.21" rx="14.6" ry="15.1"/>
<ellipse cx="1183.5" cy="263.88" rx="14.6" ry="15.1"/>
<ellipse cx="1245.5" cy="316.15" rx="14.6" ry="15.1"/>
<ellipse cx="1307.5" cy="301.22" rx="14.6" ry="15.1"/>
<ellipse cx="1369.5" cy="133.19" rx="14.6" ry="15.1"/>
<ellipse cx="1431.5" cy="222.81" rx="14.6" ry="15.1"/>
<ellipse cx="1493.5" cy="641" rx="14.6" ry="15.1"/>
<ellipse cx="1555.5" cy="861.3" rx="14.6" ry="15.1"/>
<ellipse cx="1617.5" cy="887.44" rx="14.6" ry="15.1"/>
<ellipse cx="1679.5" cy="902.38" rx="14.6" ry="15.1"/>
</g>
<g id="axes" stroke="#000" stroke-width="4.2" fill="none" stroke-linecap="butt">
<path d="M199 44.2 H1713.1 M199 1165.1 H1713.1 M222 44.2 V1165.1 M1711 44.2 V1165.1"/>
<path d="M210 1127.55 H222 M1698.3 1127.55 H1711 M199 1090.21 H222 M1687 1090.21 H1711 M210 1052.86 H222 M1698.3 1052.86 H1711 M199 1015.52 H222 M1687 1015.52 H1711 M210 978.17 H222 M1698.3 978.17 H1711 M199 940.82 H222 M1687 940.82 H1711 M210 903.48 H222 M1698.3 903.48 H1711 M199 866.13 H222 M1687 866.13 H1711 M210 828.79 H222 M1698.3 828.79 H1711 M199 791.44 H222 M1687 791.44 H1711 M210 754.09 H222 M1698.3 754.09 H1711 M199 716.75 H222 M1687 716.75 H1711 M210 679.4 H222 M1698.3 679.4 H1711 M199 642.06 H222 M1687 642.06 H1711 M210 604.71 H222 M1698.3 604.71 H1711 M199 567.36 H222 M1687 567.36 H1711 M210 530.02 H222 M1698.3 530.02 H1711 M199 492.67 H222 M1687 492.67 H1711 M210 455.33 H222 M1698.3 455.33 H1711 M199 417.98 H222 M1687 417.98 H1711 M210 380.63 H222 M1698.3 380.63 H1711 M199 343.29 H222 M1687 343.29 H1711 M210 305.94 H222 M1698.3 305.94 H1711 M199 268.6 H222 M1687 268.6 H1711 M210 231.25 H222 M1698.3 231.25 H1711 M199 193.9 H222 M1687 193.9 H1711 M210 156.56 H222 M1698.3 156.56 H1711 M199 119.21 H222 M1687 119.21 H1711 M210 81.87 H222 M1698.3 81.87 H1711 M253.2 44.2 V57.7 M253.2 1165.1 V1178.5 M316 44.2 V68.8 M316 1165.1 V1189.8 M377.95 44.2 V57.7 M377.95 1165.1 V1178.5 M439.9 44.2 V68.8 M439.9 1165.1 V1189.8 M501.85 44.2 V57.7 M501.85 1165.1 V1178.5 M563.8 44.2 V68.8 M563.8 1165.1 V1189.8 M625.75 44.2 V57.7 M625.75 1165.1 V1178.5 M687.7 44.2 V68.8 M687.7 1165.1 V1189.8 M749.65 44.2 V57.7 M749.65 1165.1 V1178.5 M811.6 44.2 V68.8 M811.6 1165.1 V1189.8 M873.55 44.2 V57.7 M873.55 1165.1 V1178.5 M935.5 44.2 V68.8 M935.5 1165.1 V1189.8 M997.45 44.2 V57.7 M997.45 1165.1 V1178.5 M1059.4 44.2 V68.8 M1059.4 1165.1 V1189.8 M1121.35 44.2 V57.7 M1121.35 1165.1 V1178.5 M1183.3 44.2 V68.8 M1183.3 1165.1 V1189.8 M1245.25 44.2 V57.7 M1245.25 1165.1 V1178.5 M1307.2 44.2 V68.8 M1307.2 1165.1 V1189.8 M1369.15 44.2 V57.7 M1369.15 1165.1 V1178.5 M1431.1 44.2 V68.8 M1431.1 1165.1 V1189.8 M1493.05 44.2 V57.7 M1493.05 1165.1 V1178.5 M1555.8 44.2 V68.8 M1555.8 1165.1 V1189.8 M1616.95 44.2 V57.7 M1616.95 1165.1 V1178.5 M1678.9 44.2 V68.8 M1678.9 1165.1 V1189.8"/>
</g>
<g id="ylabels">
<text transform="translate(185.2 1176.3) scale(1.03 1.05)" font-size="57.8" text-anchor="end">0</text>
<text transform="translate(185.2 1101.61) scale(1.03 1.05)" font-size="57.8" text-anchor="end">20</text>
<text transform="translate(185.2 1026.92) scale(1.03 1.05)" font-size="57.8" text-anchor="end">40</text>
<text transform="translate(185.2 952.22) scale(1.03 1.05)" font-size="57.8" text-anchor="end">60</text>
<text transform="translate(185.2 877.53) scale(1.03 1.05)" font-size="57.8" text-anchor="end">80</text>
<text transform="translate(185.2 802.84) scale(1.03 1.05)" font-size="57.8" text-anchor="end">100</text>
<text transform="translate(185.2 728.15) scale(1.03 1.05)" font-size="57.8" text-anchor="end">120</text>
<text transform="translate(185.2 653.46) scale(1.03 1.05)" font-size="57.8" text-anchor="end">140</text>
<text transform="translate(185.2 578.76) scale(1.03 1.05)" font-size="57.8" text-anchor="end">160</text>
<text transform="translate(185.2 504.07) scale(1.03 1.05)" font-size="57.8" text-anchor="end">180</text>
<text transform="translate(185.2 429.38) scale(1.03 1.05)" font-size="57.8" text-anchor="end">200</text>
<text transform="translate(185.2 354.69) scale(1.03 1.05)" font-size="57.8" text-anchor="end">220</text>
<text transform="translate(185.2 280) scale(1.03 1.05)" font-size="57.8" text-anchor="end">240</text>
<text transform="translate(185.2 205.3) scale(1.03 1.05)" font-size="57.8" text-anchor="end">260</text>
<text transform="translate(185.2 130.61) scale(1.03 1.05)" font-size="57.8" text-anchor="end">280</text>
<text transform="translate(185.2 55.92) scale(1.03 1.05)" font-size="57.8" text-anchor="end">300</text>
</g>
<g id="xlabels">
<text transform="translate(315.3 1246.1) scale(1 1.05)" font-size="57.8" text-anchor="middle">2</text>
<text transform="translate(439.2 1246.1) scale(1 1.05)" font-size="57.8" text-anchor="middle">4</text>
<text transform="translate(563.1 1246.1) scale(1 1.05)" font-size="57.8" text-anchor="middle">6</text>
<text transform="translate(687 1246.1) scale(1 1.05)" font-size="57.8" text-anchor="middle">8</text>
<text transform="translate(810.9 1246.1) scale(1 1.05)" font-size="57.8" text-anchor="middle">10</text>
<text transform="translate(934.8 1246.1) scale(1 1.05)" font-size="57.8" text-anchor="middle">12</text>
<text transform="translate(1058.7 1246.1) scale(1 1.05)" font-size="57.8" text-anchor="middle">14</text>
<text transform="translate(1182.6 1246.1) scale(1 1.05)" font-size="57.8" text-anchor="middle">16</text>
<text transform="translate(1306.5 1246.1) scale(1 1.05)" font-size="57.8" text-anchor="middle">18</text>
<text transform="translate(1430.4 1246.1) scale(1 1.05)" font-size="57.8" text-anchor="middle">20</text>
<text transform="translate(1554.3 1246.1) scale(1 1.05)" font-size="57.8" text-anchor="middle">22</text>
<text transform="translate(1678.2 1246.1) scale(1 1.05)" font-size="57.8" text-anchor="middle">24</text>
</g>
<text transform="translate(966.2 1299.7) scale(1.118 1.06)" font-size="57.8" text-anchor="middle">Time/hour</text>
<text transform="translate(66.3 609.8) rotate(-90) scale(1.115 1.045)" font-size="57.8" text-anchor="middle">Power/kW</text>
<g id="legend">
<g stroke="#00ff00" stroke-width="8.3" stroke-linecap="round"><line x1="241.1" y1="113.85" x2="291.8" y2="113.85"/><line x1="346.3" y1="113.85" x2="395.9" y2="113.85"/></g>
<ellipse cx="318.5" cy="113.5" rx="14.7" ry="16.2" fill="#00ff00"/>
<rect x="243.8" y="170.1" width="151.6" height="61.8" fill="#ffff00"/><path d="M253 171.6 V231.9 M264.2 171.6 V231.9 M274.9 171.6 V231.9 M286.1 171.6 V231.9 M296.1 171.6 V231.9 M307.2 171.6 V231.9 M317.2 171.6 V231.9 M328 171.6 V231.9 M339.1 171.6 V231.9 M349.1 171.6 V231.9 M359.8 171.6 V231.9 M370.2 171.6 V231.9 M381 171.6 V231.9 M391.4 171.6 V231.9" stroke="#fff" stroke-width="1.95" fill="none"/>
<svg x="241.7" y="256.6" width="153.5" height="62.8"><rect width="100%" height="100%" fill="#ff0000"/><path d="M-3 57.25L5.46 65.8M-3 42.2L20.36 65.8M-3 27.15L35.26 65.8M-3 12.1L50.16 65.8M-3 -2.95L65.06 65.8M11.85 -3L79.96 65.8M26.75 -3L94.86 65.8M41.65 -3L109.76 65.8M56.55 -3L124.66 65.8M71.45 -3L139.56 65.8M86.35 -3L154.46 65.8M101.25 -3L156.5 52.81M116.15 -3L156.5 37.76M131.05 -3L156.5 22.71M145.95 -3L156.5 7.66M6.45 -3L-3 6.55M21.35 -3L-3 21.6M36.25 -3L-3 36.65M51.15 -3L-3 51.7M66.05 -3L-2.06 65.8M80.95 -3L12.84 65.8M95.85 -3L27.74 65.8M110.75 -3L42.64 65.8M125.65 -3L57.54 65.8M140.55 -3L72.44 65.8M155.45 -3L87.34 65.8M156.5 10.99L102.24 65.8M156.5 26.04L117.14 65.8M156.5 41.09L132.04 65.8M156.5 56.14L146.94 65.8" stroke="#fff" stroke-width="2.15" fill="none"/><path d="M0.5 0.5H153V62.2H0.5Z" fill="none" stroke="#ff0000" stroke-width="1.3"/></svg>
<svg x="243.8" y="346.2" width="149" height="57.3"><rect width="100%" height="100%" fill="#ff80ff"/><path d="M-3 60.16L-2.86 60.3M-3 38.46L18.54 60.3M-3 16.76L39.94 60.3M-1.09 -3L61.34 60.3M20.31 -3L82.74 60.3M41.71 -3L104.14 60.3M63.11 -3L125.54 60.3M84.51 -3L146.94 60.3M105.91 -3L152 43.74M127.31 -3L152 22.04M148.71 -3L152 0.34M0.49 -3L-3 0.54M21.89 -3L-3 22.24M43.29 -3L-3 43.94M64.69 -3L2.26 60.3M86.09 -3L23.66 60.3M107.49 -3L45.06 60.3M128.89 -3L66.46 60.3M150.29 -3L87.86 60.3M152 16.96L109.26 60.3M152 38.66L130.66 60.3" stroke="#fff" stroke-width="2.35" fill="none"/></svg>
</g>
<text transform="translate(410.8 137) scale(1 1.06)" font-size="57.8" text-anchor="start">EL</text>
<text transform="translate(409.3 223.6) scale(1.04 1.06)" font-size="57.8" text-anchor="start">MT</text>
<text transform="translate(409.5 309.6) scale(1.017 1.06)" font-size="57.8" text-anchor="start">PV</text>
<text transform="translate(409.5 396.2) scale(1.138 1.06)" font-size="57.8" text-anchor="start">grid</text>
</svg></body></html>
